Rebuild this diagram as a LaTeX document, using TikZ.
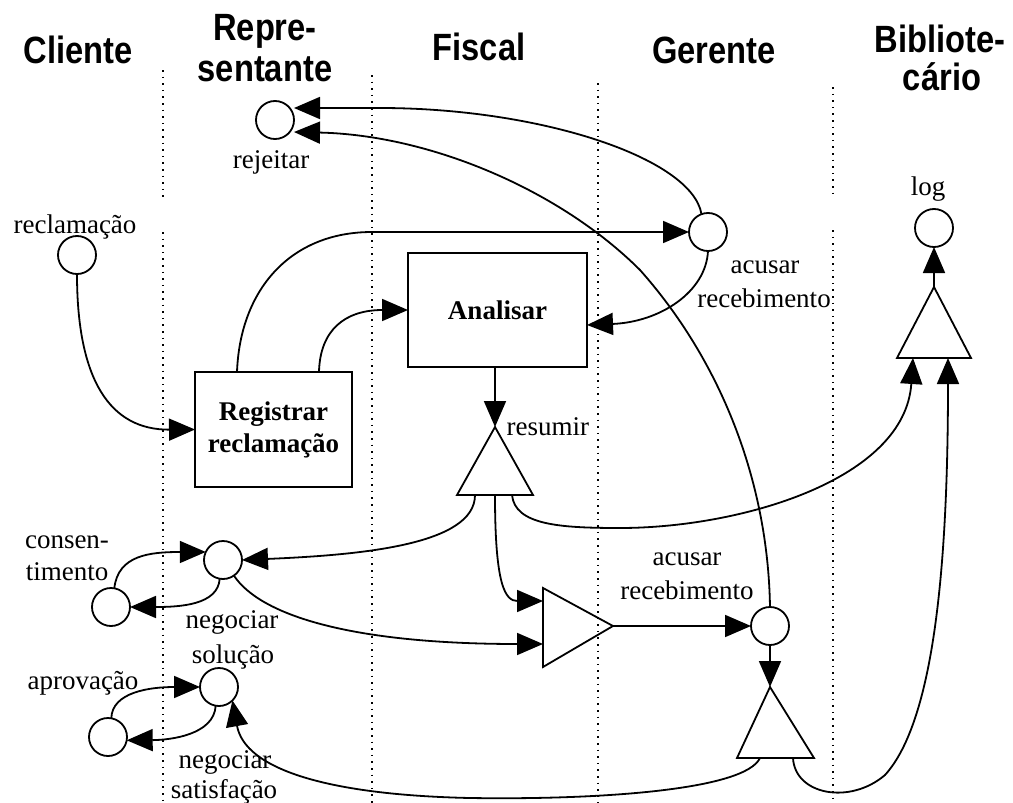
\documentclass[tikz,border=0pt]{standalone}
\usepackage{fontspec}
\setmainfont{Liberation Serif}
\newfontfamily\headfont{Liberation Sans}[FakeStretch=0.86]
\usetikzlibrary{arrows.meta}

\begin{document}
\begin{tikzpicture}[x=1pt,y=-1pt,
  lane/.style={line width=1.6pt, dash pattern=on 1.6pt off 5pt},
  conn/.style={line width=1.8pt},
  arr/.style={conn, -{Triangle[length=26pt,width=22pt]}},
  store/.style={circle, draw, line width=1.8pt, minimum size=38pt, inner sep=0pt, outer sep=0pt},
  procbox/.style={rectangle, draw, line width=2pt, inner sep=0pt, outer sep=0pt,
                  align=center, font=\bfseries\fontsize{27}{32}\selectfont},
  tri/.style={line width=1.8pt, line join=miter},
  head/.style={anchor=base, font=\headfont\bfseries\fontsize{38}{39}\selectfont},
  lbl/.style={anchor=base, font=\fontsize{27}{30}\selectfont},
]
% canvas
\fill[white] (0,0) rectangle (1013,803);
\path[use as bounding box] (0,0) rectangle (1013,803);

% swimlane separators
\draw[lane] (163,70) -- (163,200);
\draw[lane] (163,232) -- (163,803);
\draw[lane] (372,75) -- (372,803);
\draw[lane] (598,83) -- (598,803);
\draw[lane] (833,87) -- (833,198);
\draw[lane] (833,230) -- (833,803);

% lane headings
\node[head] (hCli)  at (78,63)  {Cliente};
\node[head] (hRep1) at (265,41) {Repre-};
\node[head] (hRep2) at (265,81) {sentante};
\node[head] (hFis)  at (479,60) {Fiscal};
\node[head] (hGer)  at (714,63) {Gerente};
\node[head] (hBib1) at (940,52) {Bibliote-};
\node[head] (hBib2) at (942,90) {cário};

% activities
\node[procbox, minimum width=179pt, minimum height=114pt] (anal) at (497.5,310) {Analisar};
\node[procbox, minimum width=157pt, minimum height=115pt] (reg) at (273.5,429.5) {Registrar\\reclamação};

% states / messages
\node[store] (rej)    at (275,120) {};
\node[store] (ack1)   at (708,232) {};
\node[store] (recl)   at (77,255)  {};
\node[store] (logc)   at (934,228) {};
\node[store] (ack2)   at (770,626) {};
\node[store] (cons)   at (111,607) {};
\node[store] (negsol) at (223,560) {};
\node[store] (aprov)  at (108,737) {};
\node[store] (negsat) at (219,687) {};

% triangles (summary, log, merge, split)
\coordinate (sumTop) at (495,427);
\coordinate (sumBL)  at (457,495);
\coordinate (sumBR)  at (533,495);
\coordinate (sumL)   at (475,495);
\coordinate (sumM)   at (495,495);
\coordinate (sumR)   at (512,495);
\draw[tri] (sumTop) -- (sumBL) -- (sumBR) -- cycle;

\coordinate (logTop) at (934,287);
\coordinate (logBL)  at (897,358);
\coordinate (logBR)  at (971,358);
\coordinate (logIn1) at (913,358);
\coordinate (logIn2) at (948,358);
\draw[tri] (logTop) -- (logBL) -- (logBR) -- cycle;

\coordinate (midT)   at (543,588);
\coordinate (midB)   at (543,667);
\coordinate (midTip) at (613,626);
\coordinate (midIn1) at (543,601);
\coordinate (midIn2) at (543,644);
\draw[tri] (midT) -- (midB) -- (midTip) -- cycle;

\coordinate (lowTop) at (770,687);
\coordinate (lowBL)  at (737,758);
\coordinate (lowBR)  at (814,758);
\coordinate (lowL)   at (760,758);
\coordinate (lowR)   at (793,758);
\draw[tri] (lowTop) -- (lowBL) -- (lowBR) -- cycle;

% labels
\node[lbl] (lRej)   at (271,168) {rejeitar};
\node[lbl] (lRecl)  at (75,233)  {reclamação};
\node[lbl] (lLog)   at (928,195) {log};
\node[lbl] (lAck1a) at (765,273) {acusar};
\node[lbl] (lAck1b) at (764,307) {recebimento};
\node[lbl] (lAck2a) at (687,565) {acusar};
\node[lbl] (lAck2b) at (687,599) {recebimento};
\node[lbl] (lSol1)  at (232,628) {negociar};
\node[lbl] (lSol2)  at (233,663) {solução};
\node[lbl] (lSat1)  at (225,768) {negociar};
\node[lbl] (lSat2)  at (224,798) {satisfação};
\node[lbl] (lCons1) at (67,548)  {consen-};
\node[lbl] (lCons2) at (67,580)  {timento};
\node[lbl] (lAprov) at (83,689)  {aprovação};
\node[lbl, anchor=base west] (lSum) at (503,435) {resumir};

% connectors
\draw[arr] (recl.south) .. controls (77,380) and (110,430) .. (reg.west);
\draw[arr] ([xshift=42pt]reg.north west) .. controls (240,290) and (290,232) .. (372,232) -- (ack1.west);
\draw[arr] ([xshift=124pt]reg.north west) .. controls (320,330) and (345,310) .. (anal.west);
\draw[arr] (ack1.south) .. controls (706,292) and (660,322) .. ([yshift=-15pt]anal.east);
\draw[arr] (ack1.110) .. controls (692,158) and (540,108) .. (380,108) -- ([yshift=12pt]rej.east);
\draw[arr] (ack2.north) .. controls (768,480) and (720,360) .. (640,270)
           .. controls (560,190) and (430,135) .. ([yshift=-12pt]rej.east);
\draw[arr] (anal.south -| sumTop) -- (sumTop);
\draw[arr] (sumL) .. controls (475,545) and (360,555) .. (negsol.east);
\draw[arr] (sumR) .. controls (515,525) and (560,528) .. (620,528)
           .. controls (740,528) and (905,480) .. (logIn1);
\draw[arr] (sumM) .. controls (495,585) and (505,601) .. (midIn1);
\draw[arr] (negsol.-55) .. controls (260,615) and (350,644) .. (midIn2);
\draw[arr] (negsol.-100) .. controls (218,605) and (180,607) .. (cons.east);
\draw[arr] (cons.80) .. controls (118,555) and (150,552) .. (negsol.155);
\draw[arr] (aprov.80) .. controls (112,692) and (150,687) .. (negsat.west);
\draw[arr] (negsat.-100) .. controls (214,735) and (170,740) .. (aprov.-10);
\draw[arr] (lowL) .. controls (745,790) and (600,800) .. (470,798)
           .. controls (330,795) and (245,770) .. (negsat.-45);
\draw[arr] (lowR) .. controls (795,795) and (850,805) .. (885,775)
           .. controls (935,720) and (948,560) .. (logIn2);
\draw[arr] (midTip) -- (ack2.west);
\draw[arr] (ack2.south) -- (lowTop);
\draw[arr] (logTop) -- (logc.south);
\end{tikzpicture}
\end{document}
